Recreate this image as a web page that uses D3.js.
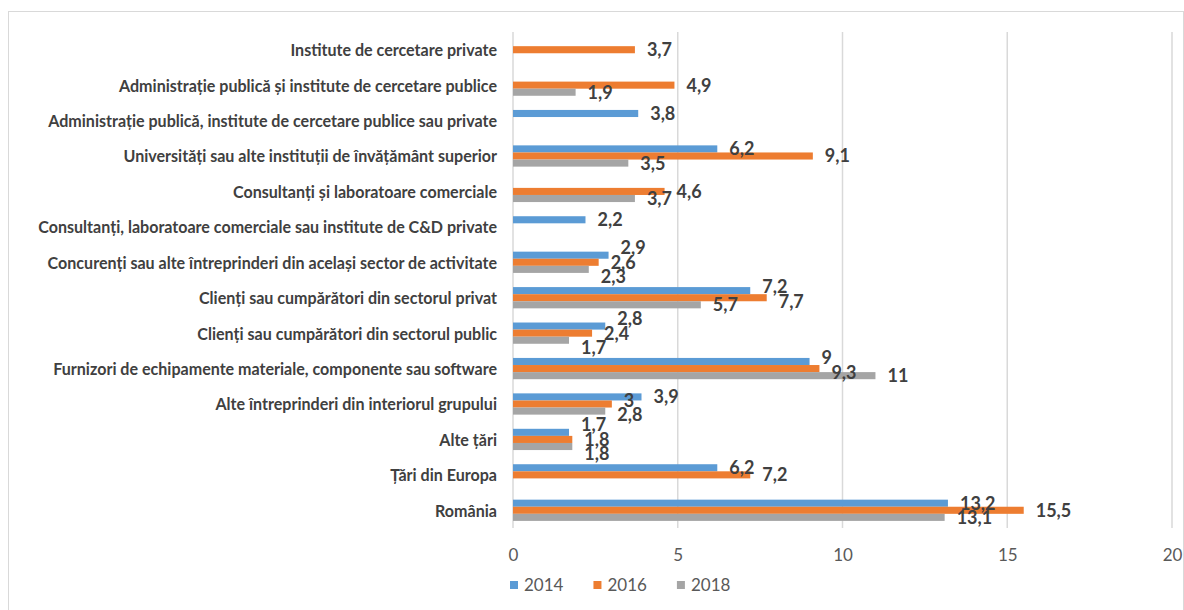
<!DOCTYPE html>
<html>
<head>
<meta charset="utf-8">
<script src="https://cdn.jsdelivr.net/npm/d3@7/dist/d3.min.js"></script>
<style>
  html, body { margin: 0; padding: 0; background: #ffffff; }
  svg { display: block; }
</style>
</head>
<body>
<svg id="chart" width="1184" height="610"></svg>
<script>
// Categories, top to bottom
const categories = [
  "Institute de cercetare private",
  "Administrație publică și institute de cercetare publice",
  "Administrație publică, institute de cercetare publice sau private",
  "Universități sau alte instituții de învățământ superior",
  "Consultanți și laboratoare comerciale",
  "Consultanți, laboratoare comerciale sau institute de C&D private",
  "Concurenți sau alte întreprinderi din același sector de activitate",
  "Clienți sau cumpărători din sectorul privat",
  "Clienți sau cumpărători din sectorul public",
  "Furnizori de echipamente materiale, componente sau software",
  "Alte întreprinderi din interiorul grupului",
  "Alte țări",
  "Țări din Europa",
  "România"
];

// Series (null = not surveyed that year)
const seriesNames = ["2014", "2016", "2018"];
const values2014 = [null, null, 3.8, 6.2, null, 2.2, 2.9, 7.2, 2.8, 9, 3.9, 1.7, 6.2, 13.2];
const values2016 = [3.7, 4.9, null, 9.1, 4.6, null, 2.6, 7.7, 2.4, 9.3, 3, 1.8, 7.2, 15.5];
const values2018 = [null, 1.9, null, 3.5, 3.7, null, 2.3, 5.7, 1.7, 11, 2.8, 1.8, null, 13.1];
const xTicks = [0, 5, 10, 15, 20];

const seriesValues = [values2014, values2016, values2018];
const colors = ["#5B9BD5", "#ED7D31", "#A5A5A5"];

const svg = d3.select("#chart");
const W = 1184, H = 610;
const FONT = "Lato, 'Open Sans', sans-serif";

// chart frame
svg.append("rect")
  .attr("x", 8.5).attr("y", 11.5)
  .attr("width", W - 9).attr("height", H)
  .attr("fill", "#fff").attr("stroke", "#d9d9d9").attr("stroke-width", 1);

const plot = { left: 513, right: 1172, top: 32, bottom: 528 };

const x = d3.scaleLinear().domain([0, 20]).range([plot.left, plot.right]);
const y = d3.scaleBand().domain(categories)
  .range([plot.top, plot.bottom]).paddingInner(0.4).paddingOuter(0.2);
const ySub = d3.scaleBand().domain(seriesNames).range([0, y.bandwidth()]);

// vertical gridlines
svg.append("g").selectAll("line").data(xTicks).join("line")
  .attr("x1", d => x(d)).attr("x2", d => x(d))
  .attr("y1", plot.top).attr("y2", plot.bottom)
  .attr("stroke", "#d9d9d9").attr("stroke-width", 1.5);

// x axis tick labels
const xAxis = d3.axisBottom(x).tickValues(xTicks).tickSize(0).tickPadding(0)
  .tickFormat(d3.format("d"));
const gx = svg.append("g").attr("transform", `translate(0, ${plot.bottom + 33})`).call(xAxis);
gx.select(".domain").remove();
gx.selectAll("text")
  .attr("fill", "#595959")
  .style("font-family", FONT)
  .style("font-size", "17px")
  .attr("dy", 0);

// category labels
const yAxis = d3.axisLeft(y).tickSize(0).tickPadding(16);
const gy = svg.append("g").attr("transform", `translate(${plot.left}, 0)`).call(yAxis);
gy.select(".domain").remove();
const catText = gy.selectAll("text")
  .attr("fill", "#404040")
  .style("font-family", FONT)
  .style("font-weight", "700")
  .style("font-size", "14px")
  .attr("dy", "0.4em");
// fit the widest category label to the left margin
let widest = 0;
catText.each(function () { widest = Math.max(widest, this.getComputedTextLength()); });
const catSize = 14 * 459 / widest;
catText.style("font-size", catSize.toFixed(2) + "px");

// bars
const rows = categories.map((c, i) => ({
  cat: c,
  items: seriesNames.map((s, j) => ({ s, j, v: seriesValues[j][i] })).filter(d => d.v !== null)
}));

const gBars = svg.append("g");
rows.forEach(r => {
  gBars.selectAll(null).data(r.items).join("rect")
    .attr("x", x(0))
    .attr("y", d => y(r.cat) + ySub(d.s))
    .attr("width", d => x(d.v) - x(0))
    .attr("height", ySub.bandwidth())
    .attr("fill", d => colors[d.j]);
});

// data labels, spread apart where they would collide
const fmt = v => String(v).replace(".", ",");
const gLab = svg.append("g")
  .style("font-family", FONT)
  .style("font-weight", "700")
  .style("font-size", "18px")
  .attr("fill", "#404040");

const LH = 14.5;
rows.forEach(r => {
  const labs = r.items.map(d => {
    const t = gLab.append("text").text(fmt(d.v)).attr("x", x(d.v) + 12).attr("dy", "0.36em");
    return { t, x0: x(d.v) + 12, w: t.node().getComputedTextLength(),
             y: y(r.cat) + ySub(d.s) + ySub.bandwidth() / 2 };
  });
  for (let iter = 0; iter < 60; iter++) {
    let moved = false;
    for (let a = 0; a < labs.length; a++) {
      for (let b = a + 1; b < labs.length; b++) {
        const A = labs[a], B = labs[b];
        const xOverlap = A.x0 < B.x0 + B.w + 2 && B.x0 < A.x0 + A.w + 2;
        const gap = B.y - A.y;
        if (xOverlap && gap < LH - 0.01) {
          const push = (LH - gap) / 2;
          A.y -= push; B.y += push; moved = true;
        }
      }
    }
    if (!moved) break;
  }
  labs.forEach(l => l.t.attr("y", l.y));
});

// legend
const legend = svg.append("g")
  .style("font-family", FONT)
  .style("font-size", "17px")
  .attr("fill", "#595959");
let lx = 510;
seriesNames.forEach((s, j) => {
  legend.append("rect").attr("x", lx).attr("y", 581).attr("width", 8).attr("height", 8)
    .attr("fill", colors[j]);
  const t = legend.append("text").attr("x", lx + 14).attr("y", 591).text(s);
  lx += 14 + t.node().getComputedTextLength() + 30;
});
</script>
</body>
</html>
